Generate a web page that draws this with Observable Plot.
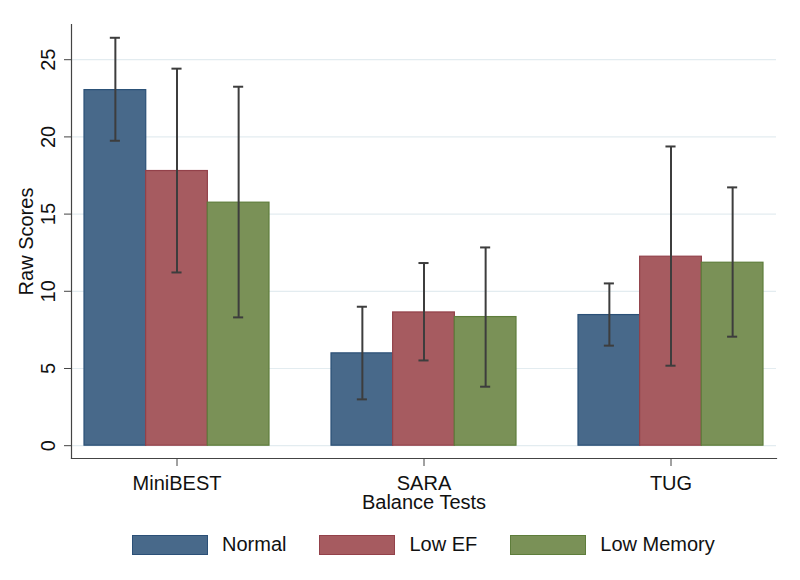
<!DOCTYPE html>
<html>
<head>
<meta charset="utf-8">
<script src="https://cdn.jsdelivr.net/npm/d3@7"></script>
<script src="https://cdn.jsdelivr.net/npm/@observablehq/plot@0.6"></script>
<style>
  body { margin: 0; background: #fff; font-family: "Liberation Sans", Arial, sans-serif; }
  #legend { display: flex; align-items: center; margin: 18px 0 0 132px; font-size: 20px; color: #111; }
  .item { display: flex; align-items: center; margin-right: 33px; }
  .sw { width: 74px; height: 18px; margin-right: 14px; border: 1px solid; }
</style>
</head>
<body>
<div id="chart"></div>
<div id="legend"></div>
<script>
const tests = ["MiniBEST", "SARA", "TUG"];
const groups = ["Normal", "Low EF", "Low Memory"];
const normalMean = [23.03, 5.98, 8.46];
const normalLow = [19.75, 3.0, 6.48];
const normalHigh = [26.42, 9.0, 10.51];
const lowEFMean = [17.79, 8.63, 12.24];
const lowEFLow = [11.22, 5.52, 5.18];
const lowEFHigh = [24.42, 11.83, 19.38];
const lowMemoryMean = [15.74, 8.33, 11.85];
const lowMemoryLow = [8.31, 3.82, 7.06];
const lowMemoryHigh = [23.25, 12.84, 16.73];
const yTicks = [0, 5, 10, 15, 20, 25];

const fills = ["#48698a", "#a65b60", "#7a9157"];
const strokes = ["#2b5077", "#93414a", "#5e7d3b"];

const series = [
  [normalMean, normalLow, normalHigh],
  [lowEFMean, lowEFLow, lowEFHigh],
  [lowMemoryMean, lowMemoryLow, lowMemoryHigh]
];
const rows = groups.flatMap((g, gi) => tests.map((t, ti) => ({
  test: t, group: g, gi,
  mean: series[gi][0][ti], lo: series[gi][1][ti], hi: series[gi][2][ti]
})));

const W = 800, H = 515, ML = 71, MR = 24, MT = 24, MB = 57;
const padInner = 0.252, padOuter = 0.052;
const step = (W - ML - MR) / (tests.length - padInner + 2 * padOuter);
const bw = step * (1 - padInner);
const sub = bw / groups.length;
const capInset = (sub - 10) / 2;

const axisColor = "#444";
const errColor = "#3d3d3d";

const marks = [
  Plot.gridY(yTicks, {stroke: "#e3ecf0", strokeOpacity: 1, strokeWidth: 1.2})
];
groups.forEach((g, i) => {
  const data = rows.filter(d => d.gi === i);
  marks.push(Plot.barY(data, {
    x: "test", y1: 0, y2: "mean", fill: fills[i], stroke: strokes[i], strokeWidth: 1.2,
    insetLeft: i * sub, insetRight: (groups.length - 1 - i) * sub
  }));
});
groups.forEach((g, i) => {
  const data = rows.filter(d => d.gi === i);
  const dx = (i - (groups.length - 1) / 2) * sub;
  marks.push(Plot.ruleX(data, {x: "test", y1: "lo", y2: "hi", dx, stroke: errColor, strokeWidth: 2}));
  for (const key of ["hi", "lo"]) {
    marks.push(Plot.tickY(data, {
      x: "test", y: key, stroke: errColor, strokeWidth: 2,
      insetLeft: i * sub + capInset, insetRight: (groups.length - 1 - i) * sub + capInset
    }));
  }
});
marks.push(
  Plot.frame({anchor: "left", stroke: axisColor, strokeWidth: 1.2}),
  Plot.frame({anchor: "bottom", stroke: axisColor, strokeWidth: 1.2}),
  Plot.axisY(yTicks, {tickSize: 7, tickRotate: -90, tickPadding: 9.5, stroke: axisColor,
    label: "Raw Scores", labelAnchor: "center", labelArrow: "none", labelOffset: 53}),
  Plot.axisX({tickSize: 8, tickPadding: 9, stroke: axisColor,
    label: "Balance Tests", labelAnchor: "center", labelArrow: "none", labelOffset: 50})
);

const chart = Plot.plot({
  width: W, height: H,
  marginLeft: ML, marginRight: MR, marginTop: MT, marginBottom: MB,
  style: {fontFamily: "'Liberation Sans', Arial, sans-serif", fontSize: "20px", color: "#111", background: "#fff"},
  x: {domain: tests, paddingInner: padInner, paddingOuter: padOuter, label: "Balance Tests"},
  y: {domain: [-0.83, 27.28], label: "Raw Scores"},
  marks
});
document.getElementById("chart").appendChild(chart);

const legend = document.getElementById("legend");
groups.forEach((g, i) => {
  const item = document.createElement("div");
  item.className = "item";
  const sw = document.createElement("span");
  sw.className = "sw";
  sw.style.background = fills[i];
  sw.style.borderColor = strokes[i];
  const label = document.createElement("span");
  label.textContent = g;
  item.appendChild(sw);
  item.appendChild(label);
  legend.appendChild(item);
});
</script>
</body>
</html>
